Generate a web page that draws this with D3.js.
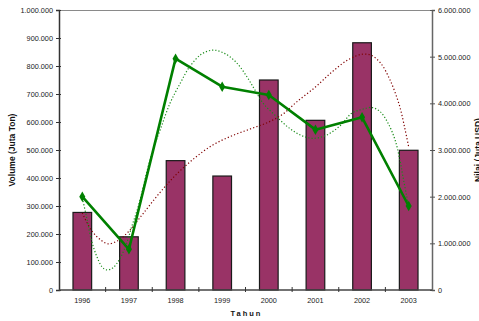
<!DOCTYPE html>
<html>
<head>
<meta charset="utf-8">
<script src="https://cdn.jsdelivr.net/npm/d3@7"></script>
<style>
  html, body { margin: 0; padding: 0; background: #fff; }
  svg { display: block; font-family: "Liberation Sans", Arial, sans-serif; }
</style>
</head>
<body>
<svg id="chart" width="479" height="321"></svg>
<script>
// Export volume (bars, left axis) and export value (line, right axis), 1996-2003
const years = ["1996", "1997", "1998", "1999", "2000", "2001", "2002", "2003"];
const volume = [277000, 190000, 462000, 407000, 750000, 606000, 883000, 499000];
const nilai = [2000000, 872000, 4957000, 4357000, 4179000, 3436000, 3700000, 1800000];

// Polynomial trend curves, sampled along the year index (0 = 1996)
const volTrendAt = [0, 0.2, 0.4, 0.55, 0.75, 1.0, 1.3, 1.65, 2.0, 2.4, 2.8, 3.2, 3.6, 4.0, 4.3, 4.6, 5.0, 5.35, 5.7, 6.0, 6.2, 6.4, 6.6, 6.8, 6.92, 7.0];
const volTrend = [275000, 212000, 178000, 165000, 175000, 210000, 272000, 345000, 410000, 470000, 518000, 550000, 575000, 600000, 628000, 672000, 725000, 778000, 822000, 842000, 838000, 810000, 750000, 660000, 575000, 511000];
const nilaiTrendAt = [0, 0.09, 0.2, 0.31, 0.42, 0.52, 0.65, 0.8, 0.95, 1.06, 1.2, 1.49, 1.67, 1.88, 2.1, 2.3, 2.55, 2.8, 3.05, 3.3, 3.53, 3.7, 3.88, 4.17, 4.45, 4.7, 4.95, 5.24, 5.53, 5.78, 6.0, 6.21, 6.39, 6.56, 6.71, 6.81, 6.89, 6.96, 7.0];
const nilaiTrend = [1970000, 1570000, 1050000, 720000, 500000, 430000, 470000, 660000, 1000000, 1360000, 1790000, 2930000, 3430000, 4000000, 4430000, 4780000, 5050000, 5140000, 5070000, 4880000, 4570000, 4290000, 4000000, 3710000, 3460000, 3310000, 3250000, 3320000, 3520000, 3790000, 3870000, 3910000, 3820000, 3570000, 3210000, 2790000, 2360000, 2000000, 1800000];

const leftTicks = [0, 100000, 200000, 300000, 400000, 500000, 600000, 700000, 800000, 900000, 1000000];
const rightTicks = [0, 1000000, 2000000, 3000000, 4000000, 5000000, 6000000];

const plot = { left: 59, right: 432, top: 10, bottom: 290 };
const svg = d3.select("#chart");

const locale = d3.formatLocale({ decimal: ",", thousands: ".", grouping: [3], currency: ["", ""] });
const fmt = locale.format(",d");

const x = d3.scaleBand().domain(years).range([plot.left, plot.right]).paddingInner(0.6).paddingOuter(0.3);
const step = x.step();
const xCenter = d => x(d) + x.bandwidth() / 2;
const xIdx = d3.scaleLinear().domain([0, 1]).range([xCenter(years[0]), xCenter(years[0]) + step]);
const yL = d3.scaleLinear().domain([0, 1000000]).range([plot.bottom, plot.top]);
const yR = d3.scaleLinear().domain([0, 6000000]).range([plot.bottom, plot.top]);

// top border of the plot area
svg.append("line")
  .attr("x1", plot.left).attr("x2", plot.right)
  .attr("y1", plot.top + 0.5).attr("y2", plot.top + 0.5)
  .attr("stroke", "#8a8a8a").attr("stroke-width", 1);

// bars
svg.append("g").selectAll("rect").data(years).join("rect")
  .attr("x", d => x(d))
  .attr("y", (d, i) => yL(volume[i]))
  .attr("width", x.bandwidth())
  .attr("height", (d, i) => yL(0) - yL(volume[i]))
  .attr("fill", "#993366")
  .attr("stroke", "#1a1a1a")
  .attr("stroke-width", 1.2);

// trend curves
const volTrendLine = d3.line()
  .x((d, i) => xIdx(volTrendAt[i]))
  .y(d => yL(d))
  .curve(d3.curveCatmullRom.alpha(0.5));
svg.append("path").datum(volTrend)
  .attr("d", volTrendLine)
  .attr("fill", "none")
  .attr("stroke", "#800000")
  .attr("stroke-width", 1.2)
  .attr("stroke-dasharray", "1.2,2.2");

const nilaiTrendLine = d3.line()
  .x((d, i) => xIdx(nilaiTrendAt[i]))
  .y(d => yR(d))
  .curve(d3.curveCatmullRom.alpha(0.5));
svg.append("path").datum(nilaiTrend)
  .attr("d", nilaiTrendLine)
  .attr("fill", "none")
  .attr("stroke", "#1a8c1a")
  .attr("stroke-width", 1.2)
  .attr("stroke-dasharray", "1.2,2");

// axes
const axisL = d3.axisLeft(yL).tickValues(leftTicks).tickFormat(fmt).tickSize(3).tickPadding(3);
const gL = svg.append("g").attr("transform", `translate(${plot.left},0)`).call(axisL);
gL.attr("font-family", null);
gL.select(".domain").attr("stroke", "#333").attr("stroke-width", 1.5);
gL.selectAll(".tick line").attr("x1", 2).attr("x2", -3).attr("stroke", "#333");
gL.selectAll(".tick text").attr("font-size", "7.3px").attr("fill", "#222").attr("x", -6);

const axisR = d3.axisRight(yR).tickValues(rightTicks).tickFormat(fmt).tickSize(3).tickPadding(3);
const gR = svg.append("g").attr("transform", `translate(${plot.right},0)`).call(axisR);
gR.attr("font-family", null);
gR.select(".domain").attr("stroke", "#666").attr("stroke-width", 1.5);
gR.selectAll(".tick line").attr("x1", -2).attr("x2", 3).attr("stroke", "#555");
gR.selectAll(".tick text").attr("font-size", "7.3px").attr("fill", "#222").attr("x", 6);

// category axis: ticks sit between categories, labels at centres
const gX = svg.append("g").attr("transform", `translate(0,${plot.bottom})`);
gX.append("line").attr("x1", plot.left).attr("x2", plot.right)
  .attr("stroke", "#444").attr("stroke-width", 1.5);
gX.selectAll("line.tk").data(years.slice(1)).join("line").attr("class", "tk")
  .attr("x1", d => x(d) - (step - x.bandwidth()) / 2)
  .attr("x2", d => x(d) - (step - x.bandwidth()) / 2)
  .attr("y1", -3).attr("y2", 2)
  .attr("stroke", "#333");
gX.selectAll("text").data(years).join("text")
  .attr("x", d => xCenter(d))
  .attr("y", 13)
  .attr("text-anchor", "middle")
  .attr("font-size", "7.3px")
  .attr("fill", "#222")
  .text(d => d);

// value line with diamond markers
const valueLine = d3.line().x((d, i) => xCenter(years[i])).y(d => yR(d));
svg.append("path").datum(nilai)
  .attr("d", valueLine)
  .attr("fill", "none")
  .attr("stroke", "#008000")
  .attr("stroke-width", 2.6)
  .attr("stroke-linejoin", "round");
svg.append("g").selectAll("path").data(nilai).join("path")
  .attr("transform", (d, i) => `translate(${xCenter(years[i])},${yR(d)})`)
  .attr("d", d3.symbol(d3.symbolDiamond, 32))
  .attr("fill", "#008000");

// titles
svg.append("text")
  .attr("transform", `translate(15,${(plot.top + plot.bottom) / 2}) rotate(-90)`)
  .attr("text-anchor", "middle")
  .attr("font-size", "8.5px").attr("font-weight", "bold").attr("fill", "#111")
  .text("Volume (Juta Ton)");
svg.append("text")
  .attr("transform", `translate(481,${(plot.top + plot.bottom) / 2}) rotate(-90)`)
  .attr("text-anchor", "middle")
  .attr("font-size", "8.5px").attr("font-weight", "bold").attr("fill", "#111")
  .text("Nilai (Juta USD)");
svg.append("text")
  .attr("x", (plot.left + plot.right) / 2 + 1)
  .attr("y", 316)
  .attr("text-anchor", "middle")
  .attr("font-size", "7.5px").attr("font-weight", "bold").attr("fill", "#111")
  .attr("letter-spacing", "2px")
  .text("Tahun");
</script>
</body>
</html>
